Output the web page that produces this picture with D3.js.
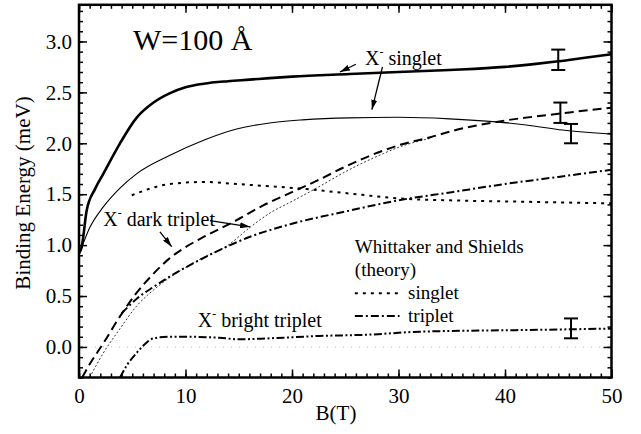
<!DOCTYPE html>
<html><head><meta charset="utf-8">
<script src="https://cdn.jsdelivr.net/npm/d3@7"></script>
<style>body{margin:0;background:#fff}svg{display:block}</style>
</head><body><svg id="c" width="641" height="434"></svg>
<script>
// ---- data (B in T, E in meV) ----
const xTicks = [0, 10, 20, 30, 40, 50];
const yTicks = [0.0, 0.5, 1.0, 1.5, 2.0, 2.5, 3.0];
const singletThickB = [0, 0.25, 0.72, 1.5, 2.28, 3.85, 5.4, 7, 8.5, 10, 11.7, 14, 16, 17.9, 20, 25.4, 30, 34.8, 40, 42.5, 45, 47.5, 50];
const singletThickE = [0.92, 0.98, 1.34, 1.55, 1.70, 2.0, 2.25, 2.40, 2.49, 2.55, 2.585, 2.61, 2.625, 2.64, 2.655, 2.68, 2.70, 2.72, 2.75, 2.775, 2.805, 2.84, 2.875];
const singletThinB = [0, 0.25, 1, 2.28, 3.85, 5.4, 8.5, 11.7, 14.8, 17.9, 21, 25.4, 30, 34.8, 39.2, 42, 45.4, 50];
const singletThinE = [0.92, 0.98, 1.17, 1.375, 1.56, 1.70, 1.88, 2.03, 2.14, 2.20, 2.23, 2.25, 2.255, 2.24, 2.21, 2.18, 2.13, 2.09];
const darkDashB = [0.3, 1, 2.28, 3.85, 5.4, 7, 8.5, 10, 11.7, 14.8, 17.3, 20, 22.3, 25, 28.6, 30, 33, 35, 39.2, 45, 50];
const darkDashE = [-0.3, -0.17, 0.035, 0.30, 0.53, 0.72, 0.87, 0.98, 1.08, 1.245, 1.39, 1.52, 1.63, 1.77, 1.93, 1.98, 2.06, 2.12, 2.21, 2.29, 2.35];
const darkThinB = [1.0, 2.28, 3.85, 5.4, 7, 8.5, 10, 11.7, 14, 16, 18, 20, 22.3, 25, 28.6, 30, 33];
const darkThinE = [-0.3, -0.06, 0.18, 0.40, 0.56, 0.68, 0.78, 0.88, 1.0, 1.17, 1.32, 1.43, 1.56, 1.72, 1.90, 1.96, 2.05];
const wsSingletB = [4.95, 8.5, 11.7, 14.8, 17.6, 20.75, 25.4, 30.1, 34.8, 42.3, 50];
const wsSingletE = [1.49, 1.60, 1.62, 1.60, 1.58, 1.556, 1.507, 1.458, 1.44, 1.425, 1.41];
const wsTripletB = [4, 5.5, 7, 8.5, 10, 12, 14.2, 16, 18, 20, 25, 30, 35, 40, 45, 50];
const wsTripletE = [0.33, 0.48, 0.59, 0.69, 0.78, 0.89, 1.0, 1.08, 1.15, 1.21, 1.33, 1.44, 1.52, 1.60, 1.67, 1.74];
const brightB = [3.85, 4.5, 5.4, 6.2, 7, 8.5, 10, 13.2, 15, 17.9, 22.6, 27, 32, 42.3, 50];
const brightE = [-0.3, -0.18, -0.06, 0.03, 0.085, 0.10, 0.10, 0.09, 0.075, 0.085, 0.108, 0.12, 0.15, 0.167, 0.18];
const errB = [45, 45.2, 46.2, 46.2];
const errLo = [2.72, 2.20, 2.00, 0.085];
const errHi = [2.92, 2.40, 2.19, 0.28];

// ---- layout ----
const FONT = "'Liberation Serif', serif";
const svg = d3.select("#c");
const L = 79, R = 611.5, T = 4.8, Bt = 377.5;
const x = d3.scaleLinear().domain([0, 50]).range([L, R]);
const y = d3.scaleLinear().domain([-0.3, 3.36]).range([Bt, T]);

const defs = svg.append("defs");
defs.append("clipPath").attr("id", "clip")
  .append("rect").attr("x", L).attr("y", T).attr("width", R - L).attr("height", Bt - T);
defs.append("marker").attr("id", "arr").attr("viewBox", "0 0 10 6")
  .attr("refX", 10).attr("refY", 3).attr("markerWidth", 10).attr("markerHeight", 6)
  .attr("markerUnits", "userSpaceOnUse").attr("orient", "auto")
  .append("path").attr("d", "M0,0 L10,3 L0,6 z").attr("fill", "#000");

// faint zero line
svg.append("line").attr("x1", x(0)).attr("x2", x(50)).attr("y1", y(0)).attr("y2", y(0))
  .attr("stroke", "#bbb").attr("stroke-width", 1).attr("stroke-dasharray", "1,7");

const g = svg.append("g").attr("clip-path", "url(#clip)");
const line = d3.line().x(d => x(d[0])).y(d => y(d[1])).curve(d3.curveMonotoneX);
function curve(bs, es, w, dash) {
  g.append("path").datum(bs.map((b, i) => [b, es[i]])).attr("d", line)
    .attr("fill", "none").attr("stroke", "#000").attr("stroke-width", w)
    .attr("stroke-dasharray", dash || null);
}
curve(darkThinB, darkThinE, 0.8, "2,2");
curve(singletThickB, singletThickE, 2.6);
curve(singletThinB, singletThinE, 1.1);
curve(darkDashB, darkDashE, 2, "9,5");
curve(wsSingletB, wsSingletE, 2, "3,5");
curve(wsTripletB, wsTripletE, 2, "8,3,2,3");
curve(brightB, brightE, 2, "8,2.5,2,2.5,2,2.5");

// error bars
errB.forEach((b, i) => {
  const eg = svg.append("g").attr("stroke", "#000").attr("stroke-width", 2);
  eg.append("line").attr("x1", x(b)).attr("x2", x(b)).attr("y1", y(errLo[i])).attr("y2", y(errHi[i]));
  [errLo[i], errHi[i]].forEach(v => eg.append("line").attr("x1", x(b) - 7).attr("x2", x(b) + 7).attr("y1", y(v)).attr("y2", y(v)));
});

// axes
function styleAxis(sel) {
  sel.attr("font-family", FONT).attr("font-size", 21);
  sel.select(".domain").remove();
  sel.selectAll("line").attr("stroke", "#000").attr("stroke-width", 1.5);
  sel.selectAll("text").attr("fill", "#000").attr("font-family", FONT).style("font-family", FONT);
}
svg.append("g").attr("transform", `translate(0,${Bt})`)
  .call(d3.axisBottom(x).tickValues(xTicks).tickSize(-8).tickPadding(11).tickFormat(d3.format("d"))).call(styleAxis);
svg.append("g").attr("transform", `translate(0,${Bt})`).call(d3.axisBottom(x).ticks(50).tickSize(-4).tickFormat("")).call(styleAxis);
svg.append("g").attr("transform", `translate(0,${T})`).call(d3.axisTop(x).tickValues(xTicks).tickSize(-8).tickFormat("")).call(styleAxis);
svg.append("g").attr("transform", `translate(0,${T})`).call(d3.axisTop(x).ticks(50).tickSize(-4).tickFormat("")).call(styleAxis);
svg.append("g").attr("transform", `translate(${L},0)`)
  .call(d3.axisLeft(y).tickValues(yTicks).tickSize(-8).tickPadding(7).tickFormat(d3.format(".1f"))).call(styleAxis);
const yMinor = d3.range(-3, 34).map(v => v / 10);
svg.append("g").attr("transform", `translate(${L},0)`).call(d3.axisLeft(y).tickValues(yMinor).tickSize(-4).tickFormat("")).call(styleAxis);
svg.append("g").attr("transform", `translate(${R},0)`).call(d3.axisRight(y).tickValues(yTicks).tickSize(-8).tickFormat("")).call(styleAxis);
svg.append("g").attr("transform", `translate(${R},0)`).call(d3.axisRight(y).tickValues(yMinor).tickSize(-4).tickFormat("")).call(styleAxis);

svg.append("rect").attr("x", L).attr("y", T).attr("width", R - L).attr("height", Bt - T)
  .attr("fill", "none").attr("stroke", "#000").attr("stroke-width", 2.5);

function txt(xp, yp, size, s) {
  return svg.append("text").attr("x", xp).attr("y", yp).attr("font-size", size)
    .attr("font-family", FONT).style("font-family", FONT).attr("fill", "#000").text(s);
}
// axis labels
txt(336, 420, 21, "B(T)").attr("text-anchor", "middle");
txt(0, 0, 21, "Binding Energy (meV)").attr("transform", "translate(30,193) rotate(-90)").attr("text-anchor", "middle");

// title
txt(x(5.07), y(2.92), 30, "W=100 Å");

// annotations
function xLabel(b, e, rest) {
  const t = txt(x(b), y(e), 20, null);
  t.append("tspan").text("X");
  t.append("tspan").attr("font-size", 12).attr("dy", -9).text("-");
  t.append("tspan").attr("dy", 9).text(" " + rest);
}
function arrow(b1, e1, b2, e2) {
  svg.append("line").attr("x1", x(b1)).attr("y1", y(e1)).attr("x2", x(b2)).attr("y2", y(e2))
    .attr("stroke", "#000").attr("stroke-width", 1.3).attr("marker-end", "url(#arr)");
}
xLabel(26.85, 2.77, "singlet");
arrow(26.0, 2.776, 24.5, 2.70);
arrow(28.5, 2.75, 27.5, 2.33);
xLabel(2.28, 1.19, "dark triplet");
arrow(12.3, 1.24, 16.06, 1.18);
arrow(7.6, 1.13, 8.7, 0.985);
xLabel(11.15, 0.2, "bright triplet");

// legend
txt(x(25.9), y(0.926), 19, "Whittaker and Shields");
txt(x(25.9), y(0.697), 19, "(theory)");
svg.append("line").attr("x1", x(25.9)).attr("x2", x(30.1)).attr("y1", y(0.527)).attr("y2", y(0.527))
  .attr("stroke", "#000").attr("stroke-width", 2).attr("stroke-dasharray", "3,5");
txt(x(30.9), y(0.474), 19, "singlet");
svg.append("line").attr("x1", x(25.9)).attr("x2", x(30.1)).attr("y1", y(0.304)).attr("y2", y(0.304))
  .attr("stroke", "#000").attr("stroke-width", 2).attr("stroke-dasharray", "8,3,2,3");
txt(x(30.9), y(0.248), 19, "triplet");
</script></body></html>
